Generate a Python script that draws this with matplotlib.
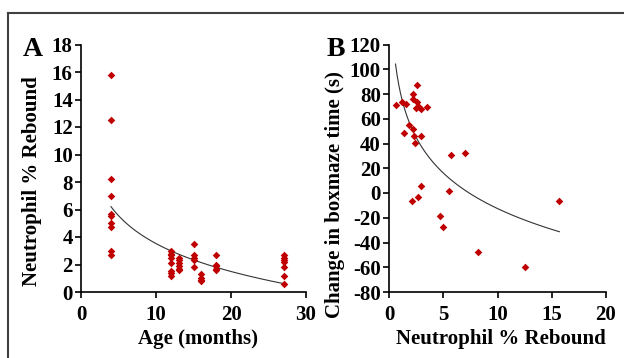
import matplotlib.pyplot as plt
import numpy as np
from matplotlib.lines import Line2D

plt.rcParams["font.family"] = ["Liberation Serif", "DejaVu Serif"]
plt.rcParams["font.weight"] = "bold"

# panel A: age vs neutrophil % rebound
age = [4] * 10 + [12] * 8 + [13] * 6 + [15] * 5 + [16] * 4 + [18] * 5 + [27] * 7
rebound = [15.8, 12.5, 8.2, 7.0, 5.7, 5.5, 5.0, 4.7, 3.0, 2.7,
           3.0, 2.8, 2.7, 2.45, 2.1, 1.5, 1.35, 1.2,
           2.5, 2.3, 2.1, 1.9, 1.7, 1.6,
           3.5, 2.7, 2.5, 2.3, 1.8,
           1.3, 1.0, 0.9, 0.8,
           2.7, 2.0, 1.9, 1.7, 1.6,
           2.7, 2.5, 2.3, 2.2, 1.8, 1.2, 0.6]
trend_a = (10.27, -2.93)   # y = a + b*ln(x)
trend_a_range = (4, 27)
xticks_a = [0, 10, 20, 30]
yticks_a = list(range(0, 19, 2))

# panel B: neutrophil % rebound vs change in boxmaze time
neut = [0.62, 1.17, 1.54, 2.55, 2.18, 2.24, 2.61, 2.46, 2.92, 2.79, 3.50,
        1.81, 1.38, 2.18, 2.33, 2.98, 2.37, 5.71, 7.03, 2.92, 5.53, 2.67,
        2.09, 15.7, 4.73, 4.95, 8.17, 12.56]
boxmaze = [71, 73.2, 72, 86.9, 80, 75.8, 73.7, 68.3, 67.8, 69.6, 69.4,
           54.8, 48.6, 51.4, 46, 45.7, 40.1, 30.4, 32.2, 5.9, 1.8, -3.0,
           -6.5, -6.5, -18.6, -27.8, -47.9, -59.8]
trend_b = (83.0, -41.5)
trend_b_range = (0.6, 15.7)
xticks_b = [0, 5, 10, 15, 20]
yticks_b = list(range(-80, 121, 20))

red = "#c00000"
fig = plt.figure(figsize=(6.24, 3.58), dpi=100)
W, H = 624, 358


def make_axes(l, r, t, b):
    return fig.add_axes([l / W, 1 - b / H, (r - l) / W, (b - t) / H])


def style(ax, xt, yt):
    for s in ("top", "right"):
        ax.spines[s].set_visible(False)
    for s in ("left", "bottom"):
        ax.spines[s].set_linewidth(1.2)
    ax.set_xticks(xt, labels=[str(v) for v in xt], fontsize=15, fontweight="bold")
    ax.set_yticks(yt, labels=[str(v) for v in yt], fontsize=15, fontweight="bold")
    ax.tick_params(direction="out", length=4, width=1.2)
    ax.tick_params(axis="x", pad=5)
    ax.tick_params(axis="y", pad=2)


ax1 = make_axes(81, 306, 44.5, 292)
ax2 = make_axes(389, 606, 44.5, 292)

ax1.scatter(age, rebound, marker="D", s=15, color=red, zorder=3, linewidths=0)
xa = np.linspace(*trend_a_range, 100)
ax1.plot(xa, trend_a[0] + trend_a[1] * np.log(xa), color="#333333", lw=0.8)
ax1.set_xlim(0, 30)
ax1.set_ylim(0, 18)
style(ax1, xticks_a, yticks_a)
ax1.set_xlabel("Age (months)", fontsize=15, fontweight="bold")
ax1.set_ylabel("Neutrophil % Rebound", fontsize=15, fontweight="bold")
ax1.xaxis.set_label_coords(0.518, -0.150)
ax1.yaxis.set_label_coords(-0.175, 0.45)

ax2.scatter(neut, boxmaze, marker="D", s=15, color=red, zorder=3, linewidths=0)
xb = np.linspace(*trend_b_range, 100)
ax2.plot(xb, trend_b[0] + trend_b[1] * np.log(xb), color="#333333", lw=0.8)
ax2.set_xlim(0, 20)
ax2.set_ylim(-80, 120)
style(ax2, xticks_b, yticks_b)
ax2.set_xlabel("Neutrophil % Rebound", fontsize=15, fontweight="bold")
ax2.set_ylabel("Change in boxmaze time (s)", fontsize=15, fontweight="bold")
ax2.xaxis.set_label_coords(0.516, -0.150)
ax2.yaxis.set_label_coords(-0.203, 0.395)

fig.text(33 / W, 1 - 49 / H, "A", fontsize=20, fontweight="bold", va="center", ha="center")
fig.text(336 / W, 1 - 49 / H, "B", fontsize=20, fontweight="bold", va="center", ha="center")

# frame lines
fig.add_artist(Line2D([8 / W, 8 / W], [0, 1 - 13 / H], color="#404040", lw=1.5,
                      transform=fig.transFigure))
fig.add_artist(Line2D([8 / W, 1], [1 - 13 / H, 1 - 13 / H], color="#404040", lw=1.5,
                      transform=fig.transFigure))

fig.savefig("out.png", dpi=100)
